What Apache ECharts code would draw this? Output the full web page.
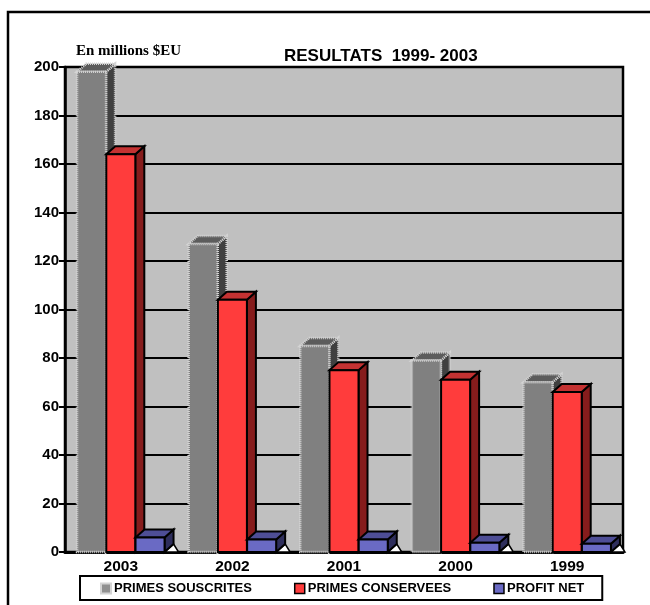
<!DOCTYPE html>
<html>
<head>
<meta charset="utf-8">
<script src="https://cdn.jsdelivr.net/npm/echarts@6/dist/echarts.min.js"></script>
<style>
  html, body { margin: 0; padding: 0; background: #fff; }
  #chart { width: 650px; height: 605px; }
</style>
</head>
<body>
<div id="chart"></div>
<script>
// Years along the category axis
const years = ['2003', '2002', '2001', '2000', '1999'];
// Values in millions $EU
const primesSouscrites = [198, 127, 85, 79, 70];
const primesConservees = [164, 104, 75, 71, 66];
const profitNet = [6, 5.2, 5.2, 3.8, 3.4];
const yTicks = { min: 0, max: 200, step: 20 };

const FONT = '"Liberation Sans", Arial, sans-serif';

// Box-style 3D column: front face, top face, side face
function makeRenderer(look) {
  return function (params, api) {
    const cat = api.value(0);
    const val = api.value(1);
    const top = api.coord([cat, val]);
    const base = api.coord([cat, 0]);
    const band = api.size([1, 0])[0];
    const w = band * 0.26;
    const cx = top[0] + look.shift * band;
    const x0 = cx - w / 2, x1 = cx + w / 2;
    const yT = top[1], yB = base[1];
    const dx = 9, dy = 8;
    const children = [];
    if (look.floorNotch) {
      children.push({
        type: 'polygon',
        shape: { points: [[x1 + dx, yB - dy], [x1 + dx + 5, yB], [x1, yB]] },
        style: { fill: '#ffffff', stroke: '#000', lineWidth: 1.5 }
      });
    }
    children.push({
      type: 'polygon',
      shape: { points: [[x1, yT], [x1 + dx, yT - dy], [x1 + dx, yB - dy], [x1, yB]] },
      style: { fill: look.side, stroke: look.stroke, lineWidth: look.lw, lineDash: look.dash }
    });
    children.push({
      type: 'polygon',
      shape: { points: [[x0, yT], [x0 + dx, yT - dy], [x1 + dx, yT - dy], [x1, yT]] },
      style: { fill: look.top, stroke: look.stroke, lineWidth: look.lw, lineDash: look.dash }
    });
    children.push({
      type: 'rect',
      shape: { x: x0, y: yT, width: x1 - x0, height: yB - yT },
      style: { fill: look.front, stroke: look.stroke, lineWidth: look.lw, lineDash: look.dash }
    });
    return { type: 'group', children: children };
  };
}

const looks = {
  gray: { shift: -0.262, front: '#808080', side: '#404040', top: '#5c5c5c', stroke: '#d4d4d4', lw: 2.5, dash: [1, 1] },
  red:  { shift: 0, front: '#ff3c3c', side: '#861c1c', top: '#c43232', stroke: '#000', lw: 2, dash: null },
  blue: { shift: 0.262, front: '#6a6ac4', side: '#2e2e5c', top: '#4e4e96', stroke: '#000', lw: 2, dash: null, floorNotch: true }
};

function seriesData(values) {
  return values.map((v, i) => [i, v]);
}

const chart = echarts.init(document.getElementById('chart'), null, { renderer: 'canvas' });

chart.setOption({
  animation: false,
  backgroundColor: '#ffffff',
  title: {
    text: 'RESULTATS  1999- 2003',
    left: 284,
    top: 48,
    padding: 0,
    textStyle: { fontFamily: FONT, fontSize: 17, fontWeight: 'bold', color: '#000' }
  },
  graphic: [
    {
      type: 'rect',
      shape: { x: 8, y: 12, width: 700, height: 700 },
      style: { fill: 'none', stroke: '#000', lineWidth: 2.5 },
      silent: true
    },
    {
      type: 'text',
      left: 76,
      top: 44,
      style: {
        text: 'En millions $EU',
        font: 'bold 15px "Liberation Serif", "Times New Roman", serif',
        fill: '#000'
      }
    }
  ],
  grid: {
    left: 65,
    right: 27,
    top: 67,
    bottom: 53,
    show: true,
    backgroundColor: '#c0c0c0',
    borderColor: '#000',
    borderWidth: 2.5
  },
  legend: {
    left: 80,
    top: 576,
    padding: [6, 18, 5, 20],
    itemGap: 42,
    itemWidth: 10,
    itemHeight: 10,
    borderColor: '#000',
    borderWidth: 2,
    backgroundColor: '#fff',
    textStyle: { fontFamily: FONT, fontSize: 13, fontWeight: 'bold', color: '#000', padding: [0, 0, 0, -2] },
    data: [
      { name: 'PRIMES SOUSCRITES', icon: 'rect', itemStyle: { color: '#909090', borderColor: '#d4d4d4', borderWidth: 2 } },
      { name: 'PRIMES CONSERVEES', icon: 'rect', itemStyle: { color: '#ff3c3c', borderColor: '#000', borderWidth: 1.5 } },
      { name: 'PROFIT NET', icon: 'rect', itemStyle: { color: '#6a6ac4', borderColor: '#000', borderWidth: 1.5 } }
    ]
  },
  xAxis: {
    type: 'category',
    data: years,
    axisLine: { lineStyle: { color: '#000', width: 3 } },
    axisTick: { show: false },
    axisLabel: { margin: 7, fontFamily: FONT, fontSize: 15.5, fontWeight: 'bold', color: '#000' },
    splitLine: { show: false }
  },
  yAxis: {
    type: 'value',
    min: yTicks.min,
    max: yTicks.max,
    interval: yTicks.step,
    axisLine: { show: true, lineStyle: { color: '#000', width: 2.5 } },
    axisTick: { show: true, length: 6, lineStyle: { color: '#000', width: 2 } },
    axisLabel: { margin: 6, fontFamily: FONT, fontSize: 15, fontWeight: 'bold', color: '#000' },
    splitLine: { show: true, lineStyle: { color: '#000', width: 2 } }
  },
  series: [
    {
      name: 'PRIMES SOUSCRITES',
      type: 'custom',
      itemStyle: { color: '#909090' },
      renderItem: makeRenderer(looks.gray),
      encode: { x: 0, y: 1 },
      data: seriesData(primesSouscrites),
      z: 3
    },
    {
      name: 'PRIMES CONSERVEES',
      type: 'custom',
      itemStyle: { color: '#ff3c3c' },
      renderItem: makeRenderer(looks.red),
      encode: { x: 0, y: 1 },
      data: seriesData(primesConservees),
      z: 4
    },
    {
      name: 'PROFIT NET',
      type: 'custom',
      itemStyle: { color: '#6a6ac4' },
      renderItem: makeRenderer(looks.blue),
      encode: { x: 0, y: 1 },
      data: seriesData(profitNet),
      z: 5
    }
  ]
});
</script>
</body>
</html>
